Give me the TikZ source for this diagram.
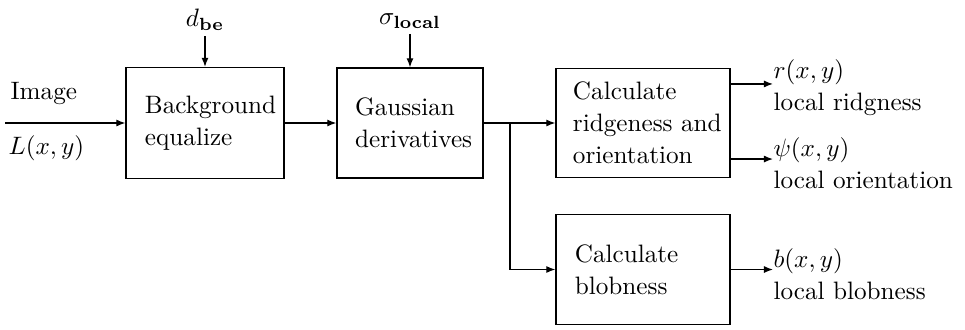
\documentclass[tikz,border=0pt]{standalone}
\usetikzlibrary{arrows.meta}
\begin{document}
\begin{tikzpicture}[x=0.397pt,y=-0.397pt,
  line width=0.5pt,
  blk/.style={draw, line width=0.5pt, align=left, inner ysep=0pt,
    font=\fontsize{10}{12.7}\selectfont},
  lbl/.style={align=left, inner sep=0pt, font=\fontsize{10}{12.7}\selectfont},
  toplbl/.style={inner sep=2pt},
  conn/.style={line width=0.5pt, -{Latex[length=3.6pt,width=2.8pt]}}]
\useasboundingbox (0,0) rectangle (965,329);

% blocks
\node[blk, inner xsep=7.5pt, text width=47.7pt, minimum height=44.1pt] (be) at (205,123) {Background\\equalize};
\node[blk, inner xsep=7.2pt, text width=43.6pt, minimum height=43.7pt] (gd) at (410,123) {Gaussian\\derivatives};
\node[blk, inner xsep=6.75pt, text width=55.6pt, minimum height=43.3pt] (rd) at (643,123) {Calculate\\\mbox{ridgeness and}\\orientation};
\node[blk, inner xsep=7.5pt, text width=54.1pt, minimum height=43.7pt] (bl) at (643,269.5) {Calculate\\blobness};

% input
\coordinate (in) at (5,123);
\node[lbl, anchor=west] (img) at (10,93) {Image};
\node[lbl, anchor=west] (L) at (8,148) {$L(x,y)$};
\draw[conn] (in) -- (be.west);

% parameters
\node[toplbl] (dbe) at (205,20) {$d_{\mathbf{be}}$};
\node[toplbl] (sig) at (410,21) {$\sigma_{\mathbf{local}}$};
\draw[conn] (dbe) -- (be.north);
\draw[conn] (sig) -- (gd.north);

% chain
\draw[conn] (be.east) -- (gd.west);
\draw[conn] (gd.east) -- (rd.west);
\coordinate (br) at (510,123);
\draw[conn] (br) |- (bl.west);

% outputs
\node[lbl, anchor=west] (rl) at (773,88) {$r(x,y)$\\local ridgness};
\node[lbl, anchor=west] (pl) at (773,163) {$\psi(x,y)$\\local orientation};
\node[lbl, anchor=west] (bo) at (773,274) {$b(x,y)$\\local blobness};
\draw[conn] ([yshift=15.5pt]rd.east) -- ([yshift=15.5pt]rd.east -| rl.west);
\draw[conn] ([yshift=-14.3pt]rd.east) -- ([yshift=-14.3pt]rd.east -| pl.west);
\draw[conn] (bl.east) -- (bl.east -| bo.west);
\end{tikzpicture}
\end{document}
